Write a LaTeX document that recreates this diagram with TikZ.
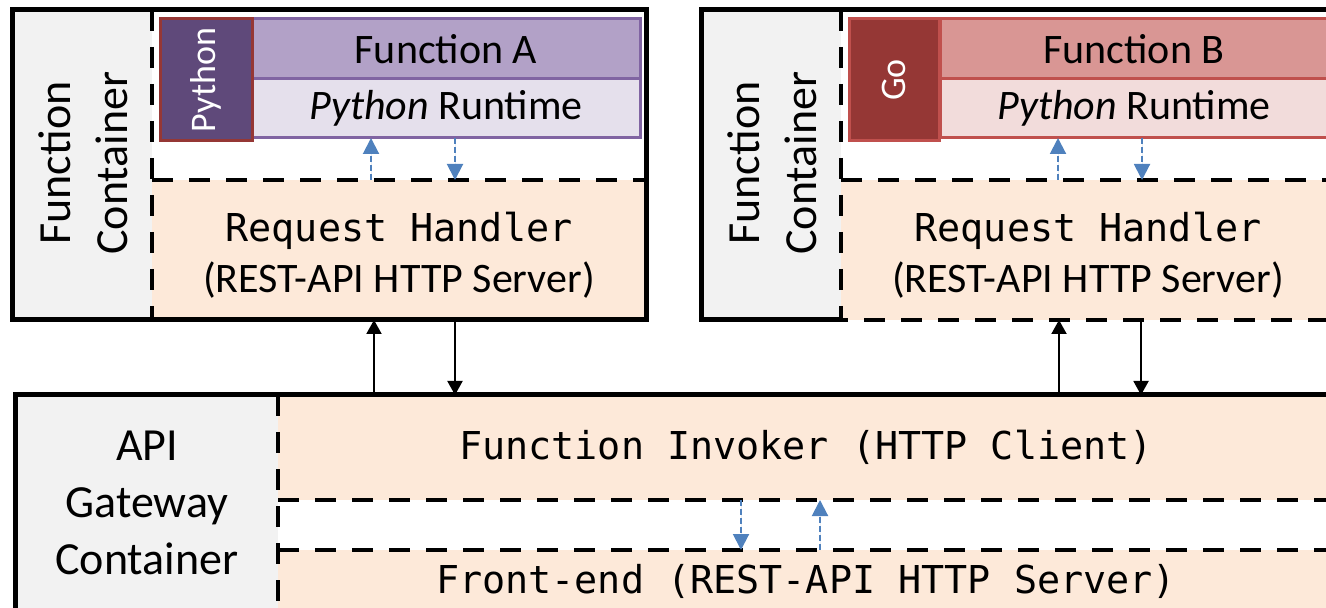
\documentclass[tikz,border=0pt]{standalone}
\usepackage{fontspec}
\setmainfont{Carlito}
\setmonofont{DejaVu Sans Mono}
\usetikzlibrary{arrows.meta}

\definecolor{panelgray}{HTML}{F2F2F2}
\definecolor{peach}{HTML}{FDE9D9}
\definecolor{pydark}{HTML}{5F497A}
\definecolor{pyedge}{HTML}{8064A2}
\definecolor{pyfill}{HTML}{B2A1C7}
\definecolor{pylight}{HTML}{E5E0EC}
\definecolor{godark}{HTML}{953735}
\definecolor{goedge}{HTML}{C0504D}
\definecolor{gofill}{HTML}{D99694}
\definecolor{golight}{HTML}{F2DCDB}
\definecolor{callblue}{HTML}{4F81BD}

\tikzset{
  box/.style={anchor=north west, inner sep=0pt, outer sep=0pt},
  solidline/.style={line width=2.5pt},
  dashline/.style={line width=2.2pt, dash pattern=on 10.5pt off 8pt},
  sidelabel/.style={align=center, font=\fontsize{23}{28.5}\selectfont},
  plaintext/.style={font=\fontsize{21}{25.5}\selectfont},
  codetext/.style={font=\ttfamily\fontsize{19.2}{25.5}\selectfont},
  call/.style={-{Triangle[length=7pt,width=7.5pt]}, line width=1pt},
  innercall/.style={-{Triangle[length=8pt,width=8pt]}, line width=1pt, draw=callblue, fill=callblue, dash pattern=on 3pt off 1.5pt},
}

\begin{document}
\begin{tikzpicture}[x=0.5pt,y=-0.5pt]
   \useasboundingbox (0,0) rectangle (1326,608);

   % left function container
   \node[box, fill=panelgray, minimum width=70pt, minimum height=155pt] (panelA) at (12,10) {};
   \node[box, fill=peach, minimum width=247pt, minimum height=70pt] (reqA) at (152,180) {};
   \node[align=center, plaintext] at ([yshift=-2.5pt]reqA.center)
      {{\ttfamily\fontsize{19.2}{25.5}\selectfont Request Handler}\\(REST-API HTTP Server)};
   \draw[dashline] (reqA.north west) -- (reqA.north east);
   \draw[dashline] (reqA.west |- panelA.north) -- (reqA.south west);
   \node[box, fill=pyfill, draw=pyedge, line width=1.5pt, minimum width=194pt, minimum height=30pt, plaintext] (fnA) at (252,19) {Function A};
   \node[box, fill=pylight, draw=pyedge, line width=1.5pt, minimum width=194pt, minimum height=29.5pt, plaintext] (rtA) at (252,79) {\textit{Python} Runtime};
   \node[box, fill=pydark, draw=godark, line width=1.5pt, minimum width=46pt, minimum height=61pt] (pyA) at (160,19) {};
   \node[rotate=90, text=white, font=\fontsize{18}{20}\selectfont] at (pyA.center) {Python};
   \node[sidelabel, rotate=90] at (83,163) {Function\\Container};
   \node[box, draw, solidline, minimum width=317pt, minimum height=155pt] (contA) at (12,10) {};

   % right function container
   \node[box, fill=panelgray, minimum width=70pt, minimum height=155pt] (panelB) at (701,10) {};
   \node[box, fill=peach, minimum width=247pt, minimum height=70pt] (reqB) at (841,180) {};
   \node[align=center, plaintext] at ([yshift=-2.5pt]reqB.center)
      {{\ttfamily\fontsize{19.2}{25.5}\selectfont Request Handler}\\(REST-API HTTP Server)};
   \draw[dashline] (reqB.north west) -- (reqB.north east);
   \draw[dashline] (reqB.west |- panelB.north) -- (reqB.south west) -- (reqB.south east);
   \node[box, fill=gofill, draw=goedge, line width=1.5pt, minimum width=194pt, minimum height=30pt, plaintext] (fnB) at (940,19) {Function B};
   \node[box, fill=golight, draw=goedge, line width=1.5pt, minimum width=194pt, minimum height=29.5pt, plaintext] (rtB) at (940,79) {\textit{Python} Runtime};
   \node[box, fill=godark, draw=goedge, line width=1.5pt, minimum width=45pt, minimum height=61pt] (goB) at (849,19) {};
   \node[rotate=90, text=white, font=\fontsize{18}{20}\selectfont] at (goB.center) {Go};
   \node[sidelabel, rotate=90] at (772,163) {Function\\Container};
   \node[box, minimum width=317pt, minimum height=155pt] (contB) at (701,10) {};
   \draw[solidline] (reqB.south west) -- (contB.south west) -- (contB.north west) -- (contB.north east);

   % api gateway container
   \node[box, fill=panelgray, minimum width=131.5pt, minimum height=112.5pt] (gwpanel) at (15,395) {};
   \node[box, fill=peach, minimum width=528pt, minimum height=52.5pt, codetext] (invoker) at (278,395) {Function Invoker (HTTP Client)};
   \node[box, fill=peach, minimum width=528pt, minimum height=31pt, codetext] (frontend) at (278,550) {Front-end (REST-API HTTP Server)};
   \draw[dashline] (invoker.north west) -- (invoker.north east);
   \draw[dashline] (invoker.south west) -- (invoker.south east);
   \draw[dashline] (frontend.north west) -- (frontend.north east);
   \draw[dashline] (frontend.south west) -- (frontend.south east);
   \draw[dashline] (invoker.north west) -- (frontend.south west);
   \node[sidelabel] at (147,503) {API\\Gateway\\Container};
   \node[box, draw, solidline, minimum width=662.5pt, minimum height=112.5pt] (gw) at (15,395) {};

   % calls between the containers
   \coordinate (upA) at ([xshift=-12.5pt]reqA.south);
   \coordinate (downA) at ([xshift=28pt]reqA.south);
   \coordinate (upB) at ([xshift=-14.5pt]reqB.south);
   \coordinate (downB) at ([xshift=26.5pt]reqB.south);
   \draw[call] (upA |- gw.north) -- (upA);
   \draw[call] (downA) -- (downA |- gw.north);
   \draw[call] (upB |- gw.north) -- (upB);
   \draw[call] (downB) -- (downB |- gw.north);

   % calls inside the containers
   \coordinate (rtupA) at ([xshift=-37.5pt]rtA.south);
   \coordinate (rtdownA) at ([xshift=4.5pt]rtA.south);
   \coordinate (rtupB) at ([xshift=-38pt]rtB.south);
   \coordinate (rtdownB) at ([xshift=4pt]rtB.south);
   \draw[innercall] (rtupA |- reqA.north) -- (rtupA);
   \draw[innercall] (rtdownA) -- (rtdownA |- reqA.north);
   \draw[innercall] (rtupB |- reqB.north) -- (rtupB);
   \draw[innercall] (rtdownB) -- (rtdownB |- reqB.north);
   \coordinate (fedown) at ([xshift=-32.5pt]invoker.south);
   \coordinate (feup) at ([xshift=7pt]invoker.south);
   \draw[innercall] (fedown) -- (fedown |- frontend.north);
   \draw[innercall] (feup |- frontend.north) -- (feup);
\end{tikzpicture}
\end{document}
